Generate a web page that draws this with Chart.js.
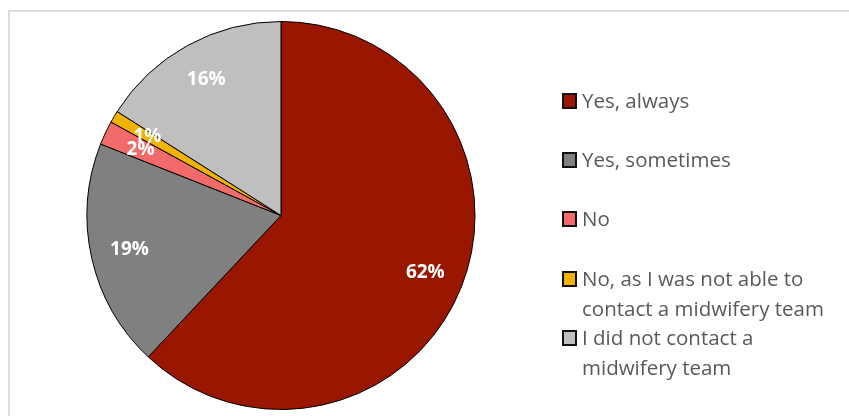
<!DOCTYPE html>
<html>
<head>
<meta charset="utf-8">
<script src="https://cdn.jsdelivr.net/npm/chart.js@4.4.1/dist/chart.umd.min.js"></script>
<style>
  html, body { margin: 0; padding: 0; background: #fff; }
  #wrap { position: relative; width: 849px; height: 416px; overflow: hidden; }
  #frame {
    position: absolute; left: 8px; top: 10px; width: 860px; height: 420px;
    border-top: 2px solid #dcdcdc; border-left: 2px solid #dcdcdc; box-sizing: border-box;
  }
  #chart { position: absolute; left: 0; top: 0; }
  #legend { position: absolute; left: 0; top: 0; font-family: "Open Sans", Lato, sans-serif; font-size: 20.5px; color: #595959; }
  .item { position: absolute; left: 562px; }
  .box { position: absolute; left: 0; width: 15px; height: 16px; box-sizing: border-box; border: 2px solid #111; }
  .txt { position: absolute; left: 20px; white-space: nowrap; line-height: 29.5px; }
</style>
</head>
<body>
<div id="wrap">
  <div id="frame"></div>
  <canvas id="chart" width="849" height="416"></canvas>
  <div id="legend"></div>
</div>
<script>
// Survey answers and their shares (%)
const categories = [
  "Yes, always",
  "Yes, sometimes",
  "No",
  "No, as I was not able to contact a midwifery team",
  "I did not contact a midwifery team"
];
const shares = [62, 19, 2, 1, 16];
// Legend text broken into lines
const legendLines = [
  ["Yes, always"],
  ["Yes, sometimes"],
  ["No"],
  ["No, as I was not able to", "contact a midwifery team"],
  ["I did not contact a", "midwifery team"]
];
const sliceColors = ["#991600", "#808080", "#f26b6b", "#f0b400", "#bfbfbf"];

// Percent labels drawn inside each slice
const sliceLabels = {
  id: "sliceLabels",
  afterDatasetsDraw(chart) {
    const ctx = chart.ctx;
    const meta = chart.getDatasetMeta(0);
    ctx.save();
    ctx.font = "bold 19px 'Open Sans', Lato, sans-serif";
    ctx.fillStyle = "#ffffff";
    ctx.textAlign = "center";
    ctx.textBaseline = "middle";
    meta.data.forEach((arc, i) => {
      const mid = (arc.startAngle + arc.endAngle) / 2;
      const r = arc.outerRadius * 0.8;
      ctx.fillText(shares[i] + "%", arc.x + Math.cos(mid) * r, arc.y + Math.sin(mid) * r);
    });
    ctx.restore();
  }
};

new Chart(document.getElementById("chart"), {
  type: "pie",
  data: {
    labels: categories,
    datasets: [{
      data: shares,
      backgroundColor: sliceColors,
      borderColor: "#000000",
      borderWidth: 1
    }]
  },
  options: {
    responsive: false,
    animation: false,
    radius: 194,
    layout: { padding: { left: 86, right: 373, top: 21, bottom: 6 } },
    plugins: { legend: { display: false }, tooltip: { enabled: false } }
  },
  plugins: [sliceLabels]
});

// Legend on the right
const legend = document.getElementById("legend");
const rowTops = [86, 145, 204, 264, 323];
legendLines.forEach((lines, i) => {
  const item = document.createElement("div");
  item.className = "item";
  item.style.top = rowTops[i] + "px";
  const box = document.createElement("div");
  box.className = "box";
  box.style.background = sliceColors[i];
  box.style.top = "7px";
  const txt = document.createElement("div");
  txt.className = "txt";
  txt.innerHTML = lines.join("<br>");
  item.appendChild(box);
  item.appendChild(txt);
  legend.appendChild(item);
});
</script>
</body>
</html>
